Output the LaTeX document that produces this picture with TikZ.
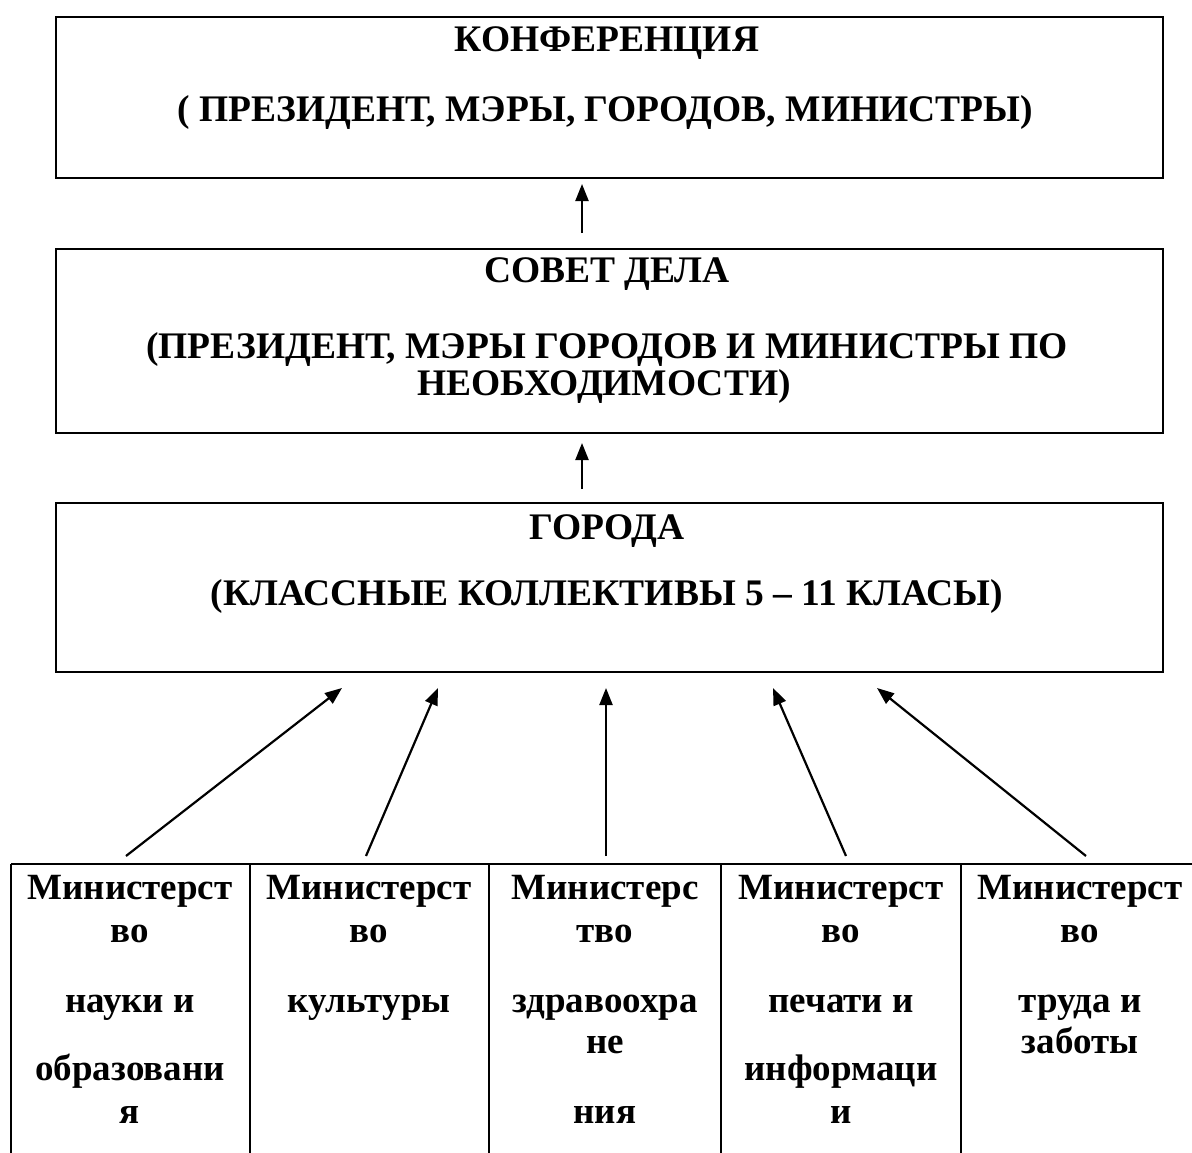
\documentclass[tikz,border=0pt]{standalone}
\usepackage{fontspec}
\setmainfont{Liberation Serif}
\usetikzlibrary{arrows.meta}
\begin{document}
\begin{tikzpicture}[x=1pt,y=-1pt,
  frame/.style={draw,line width=2pt,inner sep=0pt,anchor=north west},
  big/.style={font=\fontsize{37.5}{40}\selectfont\bfseries,inner sep=0pt,anchor=base},
  cell/.style={font=\fontsize{37}{40}\selectfont\bfseries,inner sep=0pt,anchor=base},
  link/.style={line width=2.2pt,-{Triangle[length=17pt,width=13pt]}},
  rule/.style={line width=2pt}]
\useasboundingbox (0,0) rectangle (1192,1153);
% boxes
\node[frame,minimum width=1107pt,minimum height=161pt] (conf) at (55,16) {};
\node[frame,minimum width=1107pt,minimum height=184pt] (sovet) at (55,248) {};
\node[frame,minimum width=1107pt,minimum height=169pt] (gor) at (55,502) {};
% texts
\node[big] (t1) at (607,52) {КОНФЕРЕНЦИЯ};
\node[big] (t2) at (605,122) {( ПРЕЗИДЕНТ, МЭРЫ, ГОРОДОВ, МИНИСТРЫ)};
\node[big] (t3) at (607,282) {СОВЕТ ДЕЛА};
\node[big] (t4) at (607,358) {(ПРЕЗИДЕНТ, МЭРЫ ГОРОДОВ И МИНИСТРЫ ПО};
\node[big] (t5) at (604,395) {НЕОБХОДИМОСТИ)};
\node[big] (t6) at (607,539) {ГОРОДА};
\node[big] (t7) at (607,605) {(КЛАССНЫЕ КОЛЛЕКТИВЫ 5 – 11 КЛАСЫ)};
% arrows between boxes
\coordinate (a1s) at (582,233); \coordinate (a1e) at (582,184);
\coordinate (a2s) at (582,489); \coordinate (a2e) at (582,443);
\draw[link] (a1s) -- (a1e);
\draw[link] (a2s) -- (a2e);
% table
\coordinate (tl) at (11,864); \coordinate (tr) at (1192,864);
\draw[rule] (tl) -- (tr);
\foreach \x [count=\i] in {11,250,489,721,961}{
  \coordinate (v\i t) at (\x,864); \coordinate (v\i b) at (\x,1153);
  \draw[rule] (v\i t) -- (v\i b);
}
% column 1
\node[cell] (m1a) at (130,899) {Министерст};
\node[cell] (m1b) at (130,942) {во};
\node[cell] (m1c) at (130,1012) {науки и};
\node[cell] (m1d) at (130,1080) {образовани};
\node[cell] (m1e) at (130,1123) {я};
% column 2
\node[cell] (m2a) at (369,899) {Министерст};
\node[cell] (m2b) at (369,942) {во};
\node[cell] (m2c) at (369,1012) {культуры};
% column 3
\node[cell] (m3a) at (605,899) {Министерс};
\node[cell] (m3b) at (605,942) {тво};
\node[cell] (m3c) at (605,1012) {здравоохра};
\node[cell] (m3d) at (605,1053) {не};
\node[cell] (m3e) at (605,1123) {ния};
% column 4
\node[cell] (m4a) at (841,899) {Министерст};
\node[cell] (m4b) at (841,942) {во};
\node[cell] (m4c) at (841,1012) {печати и};
\node[cell] (m4d) at (841,1080) {информаци};
\node[cell] (m4e) at (841,1123) {и};
% column 5
\node[cell] (m5a) at (1080,899) {Министерст};
\node[cell] (m5b) at (1080,942) {во};
\node[cell] (m5c) at (1080,1012) {труда и};
\node[cell] (m5d) at (1080,1053) {заботы};
% arrows from ministries
\foreach \i/\sx/\ex in {1/126/342,2/366/438,3/606/606,4/846/773,5/1086/877}{
  \coordinate (s\i) at (\sx,856); \coordinate (e\i) at (\ex,688);
  \draw[link] (s\i) -- (e\i);
}
\end{tikzpicture}
\end{document}
